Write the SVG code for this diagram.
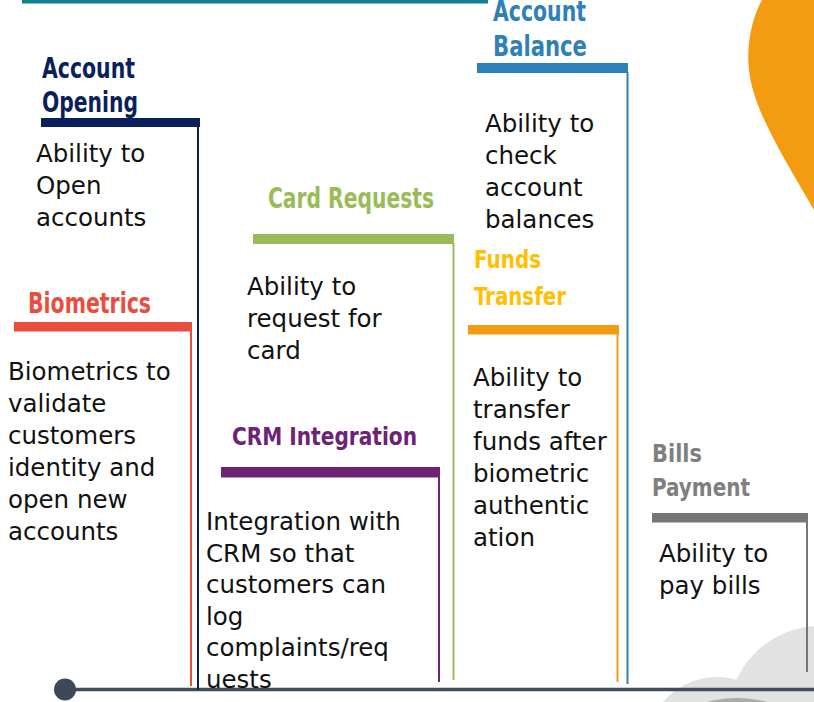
<svg xmlns="http://www.w3.org/2000/svg" width="814" height="702" viewBox="0 0 814 702">
  <style>
    .title { font-family: "Liberation Sans Narrow", "DejaVu Sans Condensed", "Liberation Sans", sans-serif; font-weight: bold; font-stretch: condensed; }
    .body { font-family: "DejaVu Sans", "Liberation Sans", sans-serif; font-size: 24.5px; fill: #111111; }
    .stem { stroke-width: 2; fill: none; }
  </style>

  <!-- backdrop shapes -->
  <g id="backdrop">
    <rect x="0" y="0" width="814" height="702" fill="#ffffff"/>
    <rect x="22" y="0" width="466" height="3.5" fill="#12808E"/>
    <path d="M 762 0 C 752 18, 746 45, 749 70 C 753 110, 785 160, 814 210 L 814 0 Z" fill="#F39C12"/>
    <circle cx="820" cy="718" r="92" fill="#E2E2E2"/>
    <circle cx="717" cy="748" r="71" fill="#E2E2E2"/>
    <circle cx="737" cy="812" r="114" fill="#ABABAB"/>
  </g>

  <!-- timeline -->
  <g id="connectors">
    <line x1="65" y1="689.5" x2="814" y2="689.5" stroke="#414B59" stroke-width="3.5"/>
    <circle cx="65" cy="689.5" r="11" fill="#3E4857"/>
  </g>

  <g id="account-opening">
    <text class="title" font-size="28" fill="#0A1F5C"><tspan x="42" y="78" textLength="93" lengthAdjust="spacingAndGlyphs">Account</tspan><tspan x="42" y="112" textLength="96" lengthAdjust="spacingAndGlyphs">Opening</tspan></text>
    <rect x="41" y="118" width="159" height="9" fill="#0A1F5C"/>
    <line class="stem" x1="198" y1="127" x2="198" y2="690" stroke="#0A1F5C"/>
    <text class="body"><tspan x="36" y="162">Ability to</tspan><tspan x="36" y="194">Open</tspan><tspan x="36" y="226">accounts</tspan></text>
  </g>

  <g id="biometrics">
    <text class="title" font-size="28" fill="#E84E3E" x="28" y="313" textLength="123" lengthAdjust="spacingAndGlyphs">Biometrics</text>
    <rect x="14" y="322" width="178" height="9.5" fill="#E84E3E"/>
    <line class="stem" x1="191" y1="331" x2="191" y2="686" stroke="#E84E3E"/>
    <text class="body"><tspan x="8" y="380">Biometrics to</tspan><tspan x="8" y="412">validate</tspan><tspan x="8" y="444">customers</tspan><tspan x="8" y="476">identity and</tspan><tspan x="8" y="508">open new</tspan><tspan x="8" y="540">accounts</tspan></text>
  </g>

  <g id="card-requests">
    <text class="title" font-size="29" fill="#9BBB59" x="268" y="208" textLength="166" lengthAdjust="spacingAndGlyphs">Card Requests</text>
    <rect x="253" y="234" width="201" height="10" fill="#9BBB59"/>
    <line class="stem" x1="453.5" y1="243" x2="453.5" y2="680" stroke="#9BBB59"/>
    <text class="body"><tspan x="247" y="295">Ability to</tspan><tspan x="247" y="327">request for</tspan><tspan x="247" y="359">card</tspan></text>
  </g>

  <g id="crm-integration">
    <text class="title" font-size="25.5" fill="#6C2275" x="232" y="445" textLength="185" lengthAdjust="spacingAndGlyphs">CRM Integration</text>
    <rect x="221" y="467" width="219" height="10.5" fill="#6C2275"/>
    <line class="stem" x1="439" y1="477" x2="439" y2="682" stroke="#6C2275"/>
    <text class="body"><tspan x="206" y="530">Integration with</tspan><tspan x="206" y="561.5">CRM so that</tspan><tspan x="206" y="593">customers can</tspan><tspan x="206" y="624.5">log</tspan><tspan x="206" y="656">complaints/req</tspan><tspan x="206" y="687.5">uests</tspan></text>
  </g>

  <g id="account-balance">
    <text class="title" font-size="28" fill="#2E80B9"><tspan x="493" y="21" textLength="93" lengthAdjust="spacingAndGlyphs">Account</tspan><tspan x="493" y="56" textLength="94" lengthAdjust="spacingAndGlyphs">Balance</tspan></text>
    <rect x="477" y="63" width="151" height="10" fill="#2E80B9"/>
    <line class="stem" x1="627.5" y1="72" x2="627.5" y2="684" stroke="#2E80B9"/>
    <text class="body"><tspan x="485" y="132">Ability to</tspan><tspan x="485" y="164">check</tspan><tspan x="485" y="196">account</tspan><tspan x="485" y="228">balances</tspan></text>
  </g>

  <g id="funds-transfer">
    <text class="title" font-size="24.5" fill="#FFC000"><tspan x="474" y="268" textLength="67" lengthAdjust="spacingAndGlyphs">Funds</tspan><tspan x="474" y="305" textLength="92" lengthAdjust="spacingAndGlyphs">Transfer</tspan></text>
    <rect x="468" y="325" width="151" height="9.5" fill="#F39C12"/>
    <line class="stem" x1="617.5" y1="334" x2="617.5" y2="682" stroke="#F39C12"/>
    <text class="body"><tspan x="473" y="386">Ability to</tspan><tspan x="473" y="418">transfer</tspan><tspan x="473" y="450">funds after</tspan><tspan x="473" y="482">biometric</tspan><tspan x="473" y="514">authentic</tspan><tspan x="473" y="546">ation</tspan></text>
  </g>

  <g id="bills-payment">
    <text class="title" font-size="24.5" fill="#7F7F7F"><tspan x="652" y="462" textLength="50" lengthAdjust="spacingAndGlyphs">Bills</tspan><tspan x="652" y="496" textLength="98" lengthAdjust="spacingAndGlyphs">Payment</tspan></text>
    <rect x="652" y="513" width="156" height="9.5" fill="#767676"/>
    <line class="stem" x1="807" y1="522" x2="807" y2="672" stroke="#767676"/>
    <text class="body"><tspan x="659" y="562">Ability to</tspan><tspan x="659" y="594">pay bills</tspan></text>
  </g>
</svg>
